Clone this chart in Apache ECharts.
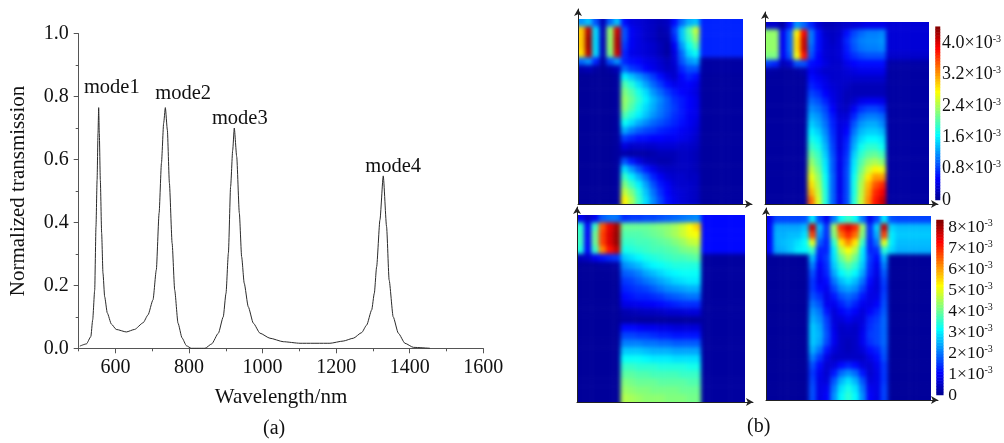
<!DOCTYPE html>
<html>
<head>
<meta charset="utf-8">
<title>Normalized transmission and field maps</title>
<script src="https://cdn.jsdelivr.net/npm/echarts@6/dist/echarts.min.js"></script>
<style>
  html, body { margin: 0; padding: 0; background: #fff; }
  #heat, #main { position: absolute; left: 0; top: 0; width: 1004px; height: 443px; }
  #heat {
    filter: blur(2.2px);
    clip-path: path('M578 19H743V204H578Z M765 22H929V204H765Z M577 215H745V402H577Z M766 216H931V400H766Z');
  }
</style>
</head>
<body>
<div id="heat"></div>
<div id="main"></div>
<script>
// spectrum, (a)
const wavelength = [503,521,533,538,543.5,547,550,552.5,554.3,556,558.8,562.4,566,570.6,577.8,588.8,602,629.5,652,675,688.4,702,711,718.6,725,731,735.6,741,746.6,754,761,770,781,793,806,825,843.5,861.6,879.7,893,900.5,907,913,918.7,923,929.6,936.7,943,950,961,974.7,993,1020,1056,1101.7,1183,1219,1246.6,1269.4,1283,1296.6,1303.7,1310,1319,1328,1337,1344,1355,1369,1387,1410,1455];
const transmission = [0.007,0.014,0.037,0.09,0.185,0.387,0.535,0.684,0.765,0.684,0.535,0.366,0.239,0.164,0.112,0.077,0.06,0.052,0.06,0.081,0.106,0.154,0.249,0.43,0.589,0.716,0.765,0.694,0.525,0.334,0.185,0.08,0.033,0.008,0,0,0,0.014,0.048,0.1,0.175,0.303,0.514,0.63,0.70,0.609,0.43,0.291,0.207,0.132,0.08,0.048,0.032,0.021,0.016,0.016,0.023,0.032,0.05,0.074,0.122,0.175,0.259,0.408,0.548,0.387,0.217,0.1,0.048,0.016,0.003,0];
const modeLabels = [[590,0.829,'mode1'],[784,0.808,'mode2'],[938,0.73,'mode3'],[1355,0.576,'mode4']];
const xMajorTicks = [600,800,1000,1200,1400,1600];
const xMinorTicks = [500,700,900,1100,1300,1500];

// field maps, (b): values in units of 10^-3, top row first
const panel1 = [
[1.2,1.4,.9,.2,1.0,1.4,.6,.4,.35,.3,.25,.2,.25,.6,1.0,1.3,1.4,.7,.7,.7,.7,.7,.7],
[3.0,4.2,1.5,.2,2.3,4.1,.9,.5,.4,.3,.25,.15,.2,.8,1.4,2.0,2.5,.7,.7,.7,.7,.7,.7],
[3.0,4.3,1.5,.2,2.3,4.2,.9,.5,.4,.3,.25,.15,.15,.7,1.4,1.9,2.3,.7,.7,.7,.7,.7,.7],
[3.0,4.3,1.5,.2,2.3,4.2,.8,.5,.4,.35,.3,.2,.1,.5,1.2,1.7,2.0,.7,.7,.7,.7,.7,.7],
[2.9,4.2,1.5,.2,2.2,4.1,.7,.45,.4,.35,.3,.2,.1,.4,1.0,1.5,1.7,.7,.7,.7,.7,.7,.7],
[1.0,1.2,.7,.1,.9,1.2,.7,.6,.55,.45,.4,.3,.2,.35,.9,1.2,1.3,.1,.1,.1,.1,.1,.1],
[.15,.2,.1,.05,.1,.2,1.0,.8,.7,.55,.45,.35,.25,.3,.7,.9,.9,.1,.1,.1,.1,.1,.1],
[.05,.05,.05,.05,.05,.08,1.6,1.4,1.2,1.0,.8,.6,.4,.3,.55,.7,.6,.08,.08,.08,.08,.08,.08],
[.05,.05,.05,.05,.05,.08,2.0,1.8,1.5,1.25,1.0,.8,.6,.45,.5,.55,.45,.08,.08,.08,.08,.08,.08],
[.05,.05,.05,.05,.05,.08,2.2,2.0,1.75,1.5,1.2,1.0,.8,.65,.55,.5,.4,.08,.08,.08,.08,.08,.08],
[.05,.05,.05,.05,.05,.08,2.3,2.1,1.85,1.6,1.35,1.15,.95,.75,.65,.55,.45,.08,.08,.08,.08,.08,.08],
[.05,.05,.05,.05,.05,.08,2.25,2.0,1.75,1.5,1.3,1.1,.95,.8,.65,.55,.45,.08,.08,.08,.08,.08,.08],
[.05,.05,.05,.05,.05,.08,2.0,1.8,1.6,1.4,1.2,1.05,.9,.75,.65,.5,.45,.08,.08,.08,.08,.08,.08],
[.05,.05,.05,.05,.05,.08,1.7,1.5,1.3,1.15,1.0,.9,.8,.7,.6,.5,.4,.08,.08,.08,.08,.08,.08],
[.05,.05,.05,.05,.05,.08,1.3,1.1,.95,.85,.8,.7,.65,.6,.5,.45,.35,.08,.08,.08,.08,.08,.08],
[.05,.05,.05,.05,.05,.08,.8,.7,.6,.6,.55,.55,.5,.5,.45,.4,.3,.08,.08,.08,.08,.08,.08],
[.05,.05,.05,.05,.05,.08,.4,.3,.3,.3,.3,.35,.35,.35,.3,.3,.25,.08,.08,.08,.08,.08,.08],
[.05,.05,.05,.05,.05,.08,.15,.12,.12,.12,.15,.2,.2,.2,.25,.25,.2,.08,.08,.08,.08,.08,.08],
[.05,.05,.05,.05,.05,.08,.9,.65,.4,.25,.2,.15,.15,.2,.25,.25,.2,.08,.08,.08,.08,.08,.08],
[.05,.05,.05,.05,.05,.08,1.5,1.2,.9,.65,.45,.3,.25,.25,.25,.25,.2,.08,.08,.08,.08,.08,.08],
[.05,.05,.05,.05,.05,.08,1.9,1.6,1.3,1.0,.7,.5,.35,.3,.3,.25,.25,.08,.08,.08,.08,.08,.08],
[.05,.05,.05,.05,.05,.08,2.2,1.9,1.6,1.25,.9,.65,.5,.35,.3,.3,.25,.08,.08,.08,.08,.08,.08],
[.05,.05,.05,.05,.05,.08,2.5,2.2,1.8,1.4,1.05,.75,.55,.4,.35,.3,.25,.08,.08,.08,.08,.08,.08],
[.05,.05,.05,.05,.05,.08,2.8,2.4,1.9,1.5,1.15,.85,.6,.45,.35,.3,.25,.08,.08,.08,.08,.08,.08]
];
const panel2 = [
[.3,.3,.1,.6,1.2,1.0,.7,.35,.2,.2,.25,.3,.35,.4,.45,.45,.45,.35,.35,.35,.35,.35,.35],
[2.3,2.3,.5,1.0,2.8,3.9,1.1,.6,.3,.25,.3,.6,.85,1.0,1.1,1.1,1.15,.35,.35,.35,.35,.35,.35],
[2.3,2.3,.5,1.0,2.9,4.1,1.1,.6,.35,.25,.35,.7,.95,1.1,1.15,1.15,1.2,.35,.35,.35,.35,.35,.35],
[2.3,2.3,.5,1.0,2.9,4.1,1.0,.6,.35,.3,.35,.65,.9,1.05,1.1,1.1,1.15,.35,.35,.35,.35,.35,.35],
[2.2,2.2,.5,.9,2.7,3.8,.9,.55,.35,.3,.35,.6,.75,.85,.9,.9,.9,.3,.3,.3,.3,.3,.3],
[.8,.7,.2,.3,.9,.9,.6,.55,.4,.3,.3,.45,.55,.6,.6,.6,.6,.12,.12,.12,.12,.12,.12],
[.12,.1,.08,.08,.1,.15,.5,.4,.3,.3,.3,.35,.4,.45,.45,.45,.45,.1,.1,.1,.1,.1,.1],
[.08,.08,.08,.08,.08,.08,.6,.5,.4,.3,.3,.3,.3,.3,.3,.3,.3,.1,.1,.1,.1,.1,.1],
[.08,.08,.08,.08,.08,.08,.7,.6,.45,.35,.3,.25,.2,.2,.2,.2,.2,.1,.1,.1,.1,.1,.1],
[.08,.08,.08,.08,.08,.08,.85,.75,.55,.4,.3,.2,.2,.2,.2,.2,.2,.1,.1,.1,.1,.1,.1],
[.08,.08,.08,.08,.08,.08,1.0,.9,.7,.45,.3,.2,.3,.45,.5,.5,.45,.1,.1,.1,.1,.1,.1],
[.08,.08,.08,.08,.08,.08,1.15,1.05,.85,.55,.3,.25,.5,.75,.85,.85,.75,.1,.1,.1,.1,.1,.1],
[.08,.08,.08,.08,.08,.08,1.3,1.2,.95,.65,.35,.35,.7,1.0,1.1,1.1,1.0,.1,.1,.1,.1,.1,.1],
[.08,.08,.08,.08,.08,.08,1.45,1.3,1.05,.7,.4,.45,.9,1.2,1.3,1.3,1.15,.1,.1,.1,.1,.1,.1],
[.08,.08,.08,.08,.08,.08,1.6,1.45,1.15,.75,.4,.55,1.05,1.35,1.45,1.45,1.35,.1,.1,.1,.1,.1,.1],
[.08,.08,.08,.08,.08,.08,1.75,1.6,1.25,.8,.4,.65,1.2,1.5,1.65,1.65,1.55,.1,.1,.1,.1,.1,.1],
[.08,.08,.08,.08,.08,.08,1.9,1.75,1.35,.85,.4,.7,1.3,1.7,1.85,1.85,1.7,.1,.1,.1,.1,.1,.1],
[.08,.08,.08,.08,.08,.08,2.1,1.9,1.45,.9,.45,.75,1.45,1.85,2.05,2.1,1.95,.1,.1,.1,.1,.1,.1],
[.08,.08,.08,.08,.08,.08,2.3,2.0,1.55,.95,.45,.8,1.55,2.0,2.3,2.4,2.25,.1,.1,.1,.1,.1,.1],
[.08,.08,.08,.08,.08,.08,2.5,2.15,1.6,.95,.45,.85,1.6,2.15,2.55,2.8,2.7,.1,.1,.1,.1,.1,.1],
[.08,.08,.08,.08,.08,.08,2.7,2.3,1.7,1.0,.45,.85,1.7,2.3,2.85,3.2,3.2,.1,.1,.1,.1,.1,.1],
[.08,.08,.08,.08,.08,.08,2.9,2.4,1.75,1.0,.45,.85,1.75,2.4,3.05,3.5,3.7,.1,.1,.1,.1,.1,.1],
[.08,.08,.08,.08,.08,.08,3.1,2.5,1.8,1.0,.45,.85,1.75,2.45,3.15,3.7,3.9,.1,.1,.1,.1,.1,.1],
[.08,.08,.08,.08,.08,.08,3.4,2.6,1.8,1.0,.45,.85,1.8,2.5,3.25,3.8,4.1,.1,.1,.1,.1,.1,.1]
];
const panel3 = [
[.9,.5,.9,1.8,2.0,2.0,1.4,1.5,1.5,1.6,1.6,1.7,1.8,1.9,2.0,2.1,2.2,1.1,1.1,1.1,1.1,1.1,1.1],
[3.5,1.0,3.6,6.6,7.5,8.1,4.0,4.0,4.0,4.0,4.1,4.2,4.3,4.5,4.8,5.2,5.6,1.1,1.1,1.1,1.1,1.1,1.1],
[3.6,1.0,4.0,6.8,7.6,8.2,3.8,3.8,3.8,3.9,4.0,4.1,4.3,4.5,4.8,5.1,5.2,1.1,1.1,1.1,1.1,1.1,1.1],
[3.6,1.0,4.0,6.8,7.6,8.2,3.6,3.6,3.7,3.7,3.8,3.9,4.0,4.2,4.4,4.7,4.8,1.1,1.1,1.1,1.1,1.1,1.1],
[3.4,1.0,3.6,6.2,7.2,7.8,3.3,3.4,3.5,3.6,3.7,3.7,3.8,3.9,4.1,4.2,4.3,1.1,1.1,1.1,1.1,1.1,1.1],
[.4,.5,.9,1.2,1.4,1.5,2.7,2.9,3.1,3.3,3.4,3.5,3.6,3.7,3.7,3.8,3.9,.15,.15,.15,.15,.15,.15],
[.1,.1,.1,.15,.15,.2,2.2,2.4,2.6,2.9,3.1,3.2,3.3,3.4,3.4,3.4,3.4,.15,.15,.15,.15,.15,.15],
[.1,.1,.1,.1,.1,.1,1.8,1.9,2.1,2.4,2.6,2.8,3.0,3.1,3.2,3.2,3.2,.15,.15,.15,.15,.15,.15],
[.1,.1,.1,.1,.1,.1,1.5,1.6,1.8,2.0,2.2,2.4,2.6,2.8,2.9,3.0,3.0,.15,.15,.15,.15,.15,.15],
[.1,.1,.1,.1,.1,.1,1.3,1.4,1.5,1.6,1.8,2.0,2.2,2.3,2.4,2.5,2.5,.15,.15,.15,.15,.15,.15],
[.1,.1,.1,.1,.1,.1,1.1,1.2,1.3,1.3,1.4,1.5,1.7,1.8,1.9,2.0,2.0,.15,.15,.15,.15,.15,.15],
[.1,.1,.1,.1,.1,.1,.8,.85,.9,.95,1.0,1.1,1.2,1.3,1.4,1.4,1.4,.15,.15,.15,.15,.15,.15],
[.1,.1,.1,.1,.1,.1,.3,.35,.4,.45,.45,.5,.6,.6,.65,.7,.7,.15,.15,.15,.15,.15,.15],
[.1,.1,.1,.1,.1,.1,.2,.2,.15,.15,.15,.15,.15,.15,.15,.15,.15,.15,.15,.15,.15,.15,.15],
[.1,.1,.1,.1,.1,.1,1.1,1.1,1.0,.9,.9,.8,.8,.7,.7,.7,.7,.15,.15,.15,.15,.15,.15],
[.1,.1,.1,.1,.1,.1,1.6,1.6,1.5,1.5,1.4,1.3,1.3,1.2,1.2,1.2,1.2,.15,.15,.15,.15,.15,.15],
[.1,.1,.1,.1,.1,.1,2.1,2.1,2.1,2.0,2.0,1.9,1.9,1.8,1.8,1.8,1.8,.15,.15,.15,.15,.15,.15],
[.1,.1,.1,.1,.1,.1,2.7,2.7,2.7,2.6,2.5,2.5,2.5,2.4,2.4,2.4,2.4,.15,.15,.15,.15,.15,.15],
[.1,.1,.1,.1,.1,.1,3.2,3.2,3.2,3.1,3.0,3.0,3.0,2.9,2.9,2.9,2.9,.15,.15,.15,.15,.15,.15],
[.1,.1,.1,.1,.1,.1,3.6,3.6,3.5,3.5,3.5,3.4,3.4,3.4,3.4,3.3,3.3,.15,.15,.15,.15,.15,.15],
[.1,.1,.1,.1,.1,.1,3.9,3.9,3.8,3.8,3.7,3.7,3.7,3.7,3.6,3.6,3.6,.15,.15,.15,.15,.15,.15],
[.1,.1,.1,.1,.1,.1,4.2,4.1,4.0,4.0,4.0,3.9,3.9,3.9,3.9,3.8,3.8,.15,.15,.15,.15,.15,.15],
[.1,.1,.1,.1,.1,.1,4.4,4.3,4.2,4.2,4.1,4.1,4.1,4.1,4.0,4.0,4.0,.15,.15,.15,.15,.15,.15],
[.1,.1,.1,.1,.1,.1,4.6,4.5,4.4,4.3,4.3,4.3,4.2,4.2,4.2,4.1,4.1,.15,.15,.15,.15,.15,.15]
];
const panel4 = [
[.9,1.6,1.6,1.6,1.6,1.7,3.0,1.6,.9,2.0,3.2,3.6,3.2,2.0,.9,1.6,3.0,1.7,1.6,1.6,1.6,1.6,1.6],
[1.0,2.4,2.4,2.4,2.4,2.6,7.8,2.6,1.4,4.4,7.0,7.6,7.0,4.4,1.4,2.8,7.8,2.8,2.6,2.6,2.6,2.6,2.6],
[1.0,2.5,2.5,2.6,2.6,2.9,6.8,2.3,1.4,4.2,6.4,7.0,6.4,4.2,1.4,2.5,6.8,3.0,2.7,2.7,2.7,2.7,2.7],
[1.0,2.5,2.6,2.7,2.9,3.2,5.0,1.8,1.3,3.5,5.4,6.2,5.4,3.6,1.3,2.0,5.0,3.0,2.6,2.6,2.6,2.6,2.6],
[1.0,2.4,2.5,2.7,3.0,3.1,3.6,1.3,1.3,3.0,4.6,5.2,4.6,3.0,1.3,1.4,3.5,2.8,2.5,2.5,2.5,2.5,2.5],
[.1,.1,.1,.1,.1,.1,2.6,1.2,1.5,2.9,4.0,4.6,4.0,2.9,1.5,1.1,2.5,.1,.1,.1,.1,.1,.1],
[.1,.1,.1,.1,.1,.1,2.1,1.0,1.4,2.7,3.5,3.9,3.5,2.7,1.4,.9,2.1,.1,.1,.1,.1,.1,.1],
[.1,.1,.1,.1,.1,.1,1.7,.9,1.3,2.4,3.1,3.4,3.1,2.4,1.3,.8,1.8,.1,.1,.1,.1,.1,.1],
[.1,.1,.1,.1,.1,.1,1.5,.9,1.1,2.0,2.6,2.9,2.6,2.0,1.1,.7,1.6,.1,.1,.1,.1,.1,.1],
[.1,.1,.1,.1,.1,.1,1.5,1.1,.9,1.6,2.2,2.4,2.2,1.6,.9,.7,1.5,.1,.1,.1,.1,.1,.1],
[.1,.1,.1,.1,.1,.1,1.7,1.4,.8,1.2,1.7,1.9,1.7,1.2,.8,.8,1.6,.1,.1,.1,.1,.1,.1],
[.1,.1,.1,.1,.1,.1,2.0,1.7,.9,.9,1.3,1.6,1.3,.9,.8,1.0,1.7,.1,.1,.1,.1,.1,.1],
[.1,.1,.1,.1,.1,.1,2.3,2.0,1.2,.7,1.0,1.2,1.0,.7,1.0,1.3,1.8,.1,.1,.1,.1,.1,.1],
[.1,.1,.1,.1,.1,.1,2.5,2.2,1.5,.7,.7,.9,.7,.7,1.3,1.5,1.9,.1,.1,.1,.1,.1,.1],
[.1,.1,.1,.1,.1,.1,2.7,2.4,1.6,.8,.5,.6,.5,.8,1.4,1.6,1.9,.1,.1,.1,.1,.1,.1],
[.1,.1,.1,.1,.1,.1,2.7,2.5,1.7,.9,.5,.5,.5,.9,1.5,1.6,1.9,.1,.1,.1,.1,.1,.1],
[.1,.1,.1,.1,.1,.1,2.7,2.4,1.6,.9,.5,.4,.5,.9,1.4,1.6,1.9,.1,.1,.1,.1,.1,.1],
[.1,.1,.1,.1,.1,.1,2.5,2.0,1.2,.7,.5,.4,.5,.7,1.1,1.3,1.8,.1,.1,.1,.1,.1,.1],
[.1,.1,.1,.1,.1,.1,2.1,1.5,.8,.5,.5,.5,.5,.5,.8,1.1,1.7,.1,.1,.1,.1,.1,.1],
[.1,.1,.1,.1,.1,.1,1.7,1.1,.6,.7,1.1,1.3,1.1,.7,.6,.9,1.5,.1,.1,.1,.1,.1,.1],
[.1,.1,.1,.1,.1,.1,1.5,.9,.6,1.2,1.9,2.2,1.9,1.2,.6,.8,1.5,.1,.1,.1,.1,.1,.1],
[.1,.1,.1,.1,.1,.1,1.6,.8,.7,1.7,2.5,2.9,2.5,1.7,.7,.8,1.5,.1,.1,.1,.1,.1,.1],
[.1,.1,.1,.1,.1,.1,1.7,.8,.9,2.0,2.9,3.3,2.9,2.0,.9,.8,1.6,.1,.1,.1,.1,.1,.1],
[.1,.1,.1,.1,.1,.1,1.7,.8,1.0,2.2,3.1,3.5,3.1,2.2,1.0,.8,1.6,.1,.1,.1,.1,.1,.1]
];

// colorbars
const topBarMax = 4.42;
const bottomBarMax = 8.37;
const topBarLabels = [0,0.8,1.6,2.4,3.2,4.0];
const topBarTicks = [0,0.4,0.8,1.2,1.6,2.0,2.4,2.8,3.2,3.6,4.0];
const bottomBarLabels = [0,1,2,3,4,5,6,7,8];
const jet = ['#00008f','#0000ff','#007fff','#00ffff','#7fff7f','#ffff00','#ff7f00','#ff0000','#800000'];

const serif = '"Liberation Serif", "Times New Roman", serif';
const ink = '#111';

// panel boxes: left, top, width, height
const boxes = [[578,19,165,185],[765,22,164,182],[577,215,168,187],[766,216,165,184]];
const panels = [panel1,panel2,panel3,panel4];

// heat layer: one extra cell each side, cut off by the clip-path, so the blur stays solid at the edge
let heatGrid = [], heatX = [], heatY = [], heatSeries = [];
panels.forEach(function (rows, p) {
  let b = boxes[p];
  let nr = rows.length, nc = rows[0].length;
  let cw = b[2] / nc, ch = b[3] / nr;
  let cells = [];
  for (let r = -1; r <= nr; r++) {
    for (let c = -1; c <= nc; c++) {
      let rr = Math.min(Math.max(r, 0), nr - 1);
      let cc = Math.min(Math.max(c, 0), nc - 1);
      cells.push([c + 1, r + 1, rows[rr][cc]]);
    }
  }
  heatGrid.push({ left: b[0] - cw, top: b[1] - ch, width: b[2] + 2 * cw, height: b[3] + 2 * ch });
  let xs = [], ys = [];
  for (let i = 0; i < nc + 2; i++) xs.push(i);
  for (let i = 0; i < nr + 2; i++) ys.push(i);
  heatX.push({ type: 'category', gridIndex: p, data: xs, show: false });
  heatY.push({ type: 'category', gridIndex: p, data: ys, inverse: true, show: false });
  heatSeries.push({ type: 'heatmap', xAxisIndex: p, yAxisIndex: p, data: cells, progressive: 0, emphasis: { disabled: true } });
});

let heatChart = echarts.init(document.getElementById('heat'));
heatChart.setOption({
  animation: false,
  grid: heatGrid,
  xAxis: heatX,
  yAxis: heatY,
  visualMap: [
    { show: false, type: 'continuous', min: 0, max: topBarMax, seriesIndex: [0, 1], inRange: { color: jet } },
    { show: false, type: 'continuous', min: 0, max: bottomBarMax, seriesIndex: [2, 3], inRange: { color: jet } }
  ],
  series: heatSeries
});

// colorbar cells
function barLevels(max) {
  let out = [];
  for (let i = 0; i < 60; i++) out.push((i + 0.5) / 60 * max);
  return out;
}
function barData(levels) {
  return levels.map(function (v, i) { return [0, i, v]; });
}
function richFor(size) {
  return {
    m: { fontFamily: serif, fontSize: size, color: ink, lineHeight: 18 },
    s: { fontFamily: serif, fontSize: 10, color: ink, verticalAlign: 'top', lineHeight: 18, padding: [0, 0, 6, 0] }
  };
}

// empty axes with arrow heads round the maps
const arrowBoxes = [[578,9,174,195],[765,12,173,192],[577,207,176,195],[766,208,172,192]];
function arrowAxis(i) {
  return {
    type: 'value', gridIndex: i + 3, min: 0, max: 1,
    axisLabel: { show: false }, axisTick: { show: false }, splitLine: { show: false },
    axisLine: { show: true, onZero: false, symbol: ['none', 'arrow'], symbolSize: [6, 7], lineStyle: { color: '#222', width: 1 } }
  };
}
let arrowX = arrowBoxes.map(function (b, i) { return arrowAxis(i); });
let arrowY = arrowBoxes.map(function (b, i) { return arrowAxis(i); });
let arrowGrid = arrowBoxes.map(function (b) {
  return { left: b[0], top: b[1], width: b[2], height: b[3] };
});

let topLevels = barLevels(topBarMax);
let bottomLevels = barLevels(bottomBarMax);
let indexList = topLevels.map(function (v, i) { return i; });

let chart = echarts.init(document.getElementById('main'));
chart.setOption({
  animation: false,
  textStyle: { fontFamily: serif, color: ink },
  grid: [
    { left: 78.7, top: 33.7, width: 404.6, height: 314.6 },
    { left: 935.5, top: 26.7, width: 6.8, height: 173.3 },
    { left: 936.5, top: 220, width: 6.8, height: 175 }
  ].concat(arrowGrid),
  xAxis: [
    {
      type: 'value', gridIndex: 0, min: 500, max: 1600, interval: 100,
      name: 'Wavelength/nm', nameLocation: 'middle', nameGap: 39,
      nameTextStyle: { fontFamily: serif, fontSize: 21, color: ink },
      axisLine: { onZero: false, lineStyle: { color: '#555', width: 1 } },
      axisTick: { length: 5, lineStyle: { color: '#555' }, customValues: xMajorTicks },
      axisLabel: { fontFamily: serif, fontSize: 20, color: ink, margin: 9, customValues: xMajorTicks, formatter: function (v) { return String(v); } },
      splitLine: { show: false }
    },
    {
      type: 'value', gridIndex: 0, position: 'bottom', min: 500, max: 1600, interval: 100,
      axisLine: { show: false },
      axisTick: { length: 3, lineStyle: { color: '#555' }, customValues: xMinorTicks },
      axisLabel: { show: false },
      splitLine: { show: false }
    },
    { type: 'category', gridIndex: 1, data: [0], show: false },
    { type: 'category', gridIndex: 2, data: [0], show: false }
  ].concat(arrowX),
  yAxis: [
    {
      type: 'value', gridIndex: 0, min: 0, max: 1, interval: 0.2,
      name: 'Normalized transmission', nameLocation: 'middle', nameGap: 50,
      nameTextStyle: { fontFamily: serif, fontSize: 21, color: ink },
      axisLine: { show: true, onZero: false, lineStyle: { color: '#555', width: 1 } },
      axisTick: { length: 5, lineStyle: { color: '#555' } },
      minorTick: { show: true, splitNumber: 2, length: 3, lineStyle: { color: '#555' } },
      axisLabel: { fontFamily: serif, fontSize: 20, color: ink, margin: 10, formatter: function (v) { return v.toFixed(1); } },
      splitLine: { show: false }
    },
    { type: 'category', gridIndex: 1, data: indexList, show: false },
    { type: 'category', gridIndex: 2, data: indexList, show: false }
  ].concat(arrowY).concat([
    {
      type: 'value', gridIndex: 1, position: 'right', min: 0, max: topBarMax,
      axisLine: { show: false },
      axisTick: { inside: true, length: 3, lineStyle: { color: '#6b3a10' }, customValues: topBarTicks },
      axisLabel: { margin: 2, customValues: topBarLabels, rich: richFor(18),
        formatter: function (v) { return v === 0 ? '{m|0}' : '{m|' + v.toFixed(1) + '×10}{s|-3}'; } },
      splitLine: { show: false }
    },
    {
      type: 'value', gridIndex: 2, position: 'right', min: 0, max: bottomBarMax,
      axisLine: { show: false },
      axisTick: { inside: true, length: 3, lineStyle: { color: '#6b3a10' }, customValues: bottomBarLabels },
      axisLabel: { margin: 5, customValues: bottomBarLabels, rich: richFor(17.5),
        formatter: function (v) { return v === 0 ? '{m|0}' : '{m|' + v + '×10}{s|-3}'; } },
      splitLine: { show: false }
    }
  ]),
  visualMap: [
    { show: false, type: 'continuous', min: 0, max: topBarMax, seriesIndex: 2, inRange: { color: jet } },
    { show: false, type: 'continuous', min: 0, max: bottomBarMax, seriesIndex: 3, inRange: { color: jet } }
  ],
  graphic: [
    { type: 'text', left: 263, top: 419, style: { text: '(a)', font: '20px ' + serif, fill: ink } },
    { type: 'text', left: 747, top: 417, style: { text: '(b)', font: '20px ' + serif, fill: ink } }
  ],
  series: [
    {
      type: 'line', xAxisIndex: 0, yAxisIndex: 0,
      data: wavelength.map(function (w, i) { return [w, transmission[i]]; }),
      showSymbol: false, smooth: 0.2, smoothMonotone: 'x',
      lineStyle: { color: '#2a2a2a', width: 1 }
    },
    {
      type: 'scatter', xAxisIndex: 0, yAxisIndex: 0, data: modeLabels, symbolSize: 0,
      itemStyle: { opacity: 1 },
      label: { show: true, position: 'inside', fontFamily: serif, fontSize: 20.5, color: ink, opacity: 1, formatter: function (p) { return p.value[2]; } }
    },
    { type: 'heatmap', xAxisIndex: 2, yAxisIndex: 1, data: barData(topLevels), progressive: 0, emphasis: { disabled: true } },
    { type: 'heatmap', xAxisIndex: 3, yAxisIndex: 2, data: barData(bottomLevels), progressive: 0, emphasis: { disabled: true } }
  ]
});
</script>
</body>
</html>
